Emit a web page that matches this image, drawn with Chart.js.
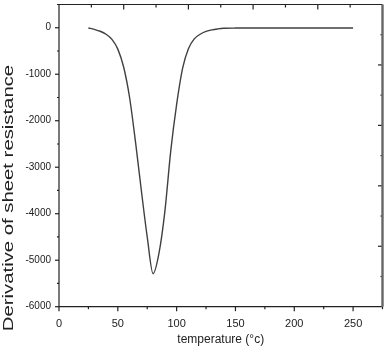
<!DOCTYPE html>
<html lang="en">

<head>
    <meta charset="UTF-8">
    <title>Derivative of sheet resistance</title>
    <script src="https://cdn.jsdelivr.net/npm/chart.js"></script>
    <style>
        body {
            margin: 0;
            background-color: #ffffff;
        }

        .chart-box {
            width: 385px;
            height: 354px;
        }
    </style>
</head>

<body>
    <div class="chart-box">
        <canvas id="derivChart" width="385" height="354"></canvas>
    </div>

    <script>
        // temperature (°C) and derivative values
        const temperature = [25, 30, 35, 40, 45, 50, 55, 60, 65, 70, 75, 80, 85, 90, 95, 100,
            105, 110, 115, 120, 125, 130, 135, 140, 150, 175, 200, 225, 250];
        const derivative = [-5, -35, -75, -140, -250, -460, -850, -1500, -2450, -3500, -4500, -5290, -4850, -3950, -2650, -1650,
            -880, -450, -240, -140, -80, -45, -25, -12, -7, -6, -6, -5, -5];

        const xTickValues = [0, 25, 50, 75, 100, 125, 150, 175, 200, 225, 250, 275];
        const yTickValues = [-6000, -5500, -5000, -4500, -4000, -3500, -3000, -2500, -2000, -1500, -1000, -500, 0, 500];

        const xTitle = "temperature (°c)";
        const yTitle = "Derivative of sheet resistance";

        const font = "'Liberation Sans', Arial, sans-serif";
        const narrowFont = "'Liberation Sans Narrow', 'Liberation Sans', Arial, sans-serif";

        // fixed axis sizes, no extra label overhang padding
        function fixSize(scale, w, h) {
            if (w !== null) scale.width = w;
            if (h !== null) scale.height = h;
            scale.paddingTop = 0;
            scale.paddingBottom = 0;
            scale.paddingLeft = 0;
            scale.paddingRight = 0;
        }

        // frame, tick marks and y title, drawn from the chart's own scales
        const framePlugin = {
            id: "frame",
            afterDraw(chart) {
                const ctx = chart.ctx;
                const area = chart.chartArea;
                const xs = chart.scales.x;
                const ys = chart.scales.y;
                ctx.save();
                ctx.strokeStyle = "#222";
                ctx.lineWidth = 1.2;

                // bottom ticks, outward
                xTickValues.forEach(v => {
                    const px = xs.getPixelForValue(v);
                    const len = v % 50 === 0 ? 4.5 : 2.5;
                    ctx.beginPath();
                    ctx.moveTo(px, area.bottom);
                    ctx.lineTo(px, area.bottom + len);
                    ctx.stroke();
                });
                // left ticks, outward
                yTickValues.forEach(v => {
                    const py = ys.getPixelForValue(v);
                    const len = v % 1000 === 0 ? 4 : 2;
                    ctx.beginPath();
                    ctx.moveTo(area.left, py);
                    ctx.lineTo(area.left - len, py);
                    ctx.stroke();
                });
                // top and right ticks: ten even divisions, inward
                for (let k = 1; k < 10; k++) {
                    const vx = xs.min + k * (xs.max - xs.min) / 10;
                    const px = xs.getPixelForValue(vx);
                    ctx.beginPath();
                    ctx.moveTo(px, area.top);
                    ctx.lineTo(px, area.top + (k % 2 === 0 ? 5 : 3));
                    ctx.stroke();

                    const vy = ys.min + k * (ys.max - ys.min) / 10;
                    const py = ys.getPixelForValue(vy);
                    ctx.beginPath();
                    ctx.moveTo(area.right, py);
                    ctx.lineTo(area.right - (k % 2 === 0 ? 4.5 : 2), py);
                    ctx.stroke();
                }

                ctx.beginPath();
                ctx.moveTo(area.right, area.bottom);
                ctx.lineTo(area.left, area.bottom);
                ctx.lineTo(area.left, area.top);
                ctx.lineTo(area.right, area.top);
                ctx.stroke();

                ctx.strokeStyle = "#666";
                ctx.lineWidth = 2.4;
                ctx.beginPath();
                ctx.moveTo(area.right, area.top);
                ctx.lineTo(area.right, area.bottom);
                ctx.stroke();

                // y title, stretched along its length like the original figure
                ctx.fillStyle = "#222";
                ctx.font = "14px " + font;
                ctx.translate(13.3, 198);
                ctx.rotate(-Math.PI / 2);
                ctx.scale(1.45, 1);
                ctx.textAlign = "center";
                ctx.textBaseline = "alphabetic";
                ctx.fillText(yTitle, 0, 0);
                ctx.restore();
            }
        };

        new Chart(document.getElementById("derivChart"), {
            type: "line",
            data: {
                labels: temperature,
                datasets: [{
                    data: temperature.map((t, i) => ({ x: t, y: derivative[i] })),
                    borderColor: "#404040",
                    borderWidth: 1.4,
                    pointRadius: 0,
                    fill: false,
                    cubicInterpolationMode: "monotone"
                }]
            },
            options: {
                responsive: false,
                animation: false,
                layout: {
                    padding: { top: 4.5, right: 2.5, left: 0, bottom: 0 }
                },
                plugins: {
                    legend: { display: false },
                    tooltip: { enabled: false }
                },
                scales: {
                    x: {
                        type: "linear",
                        min: 0,
                        max: 275,
                        afterFit: scale => fixSize(scale, null, 47.3),
                        afterBuildTicks: scale => { scale.ticks = xTickValues.map(v => ({ value: v })); },
                        grid: { display: false, drawTicks: false },
                        border: { display: false },
                        ticks: {
                            autoSkip: false,
                            maxRotation: 0,
                            padding: 11,
                            color: "#222",
                            font: { size: 11, family: narrowFont },
                            callback: v => v % 50 === 0 ? String(v) : ""
                        },
                        title: {
                            display: true,
                            text: xTitle,
                            color: "#222",
                            font: { size: 12, family: font },
                            padding: { top: 0, bottom: 7 }
                        }
                    },
                    y: {
                        type: "linear",
                        min: -6000,
                        max: 500,
                        afterFit: scale => fixSize(scale, 59, null),
                        afterBuildTicks: scale => { scale.ticks = yTickValues.map(v => ({ value: v })); },
                        grid: { display: false, drawTicks: false },
                        border: { display: false },
                        ticks: {
                            autoSkip: false,
                            padding: 8,
                            color: "#222",
                            font: { size: 10, family: font },
                            callback: v => (v % 1000 === 0 && v <= 0) ? String(v) : ""
                        }
                    }
                }
            },
            plugins: [framePlugin]
        });
    </script>
</body>

</html>
